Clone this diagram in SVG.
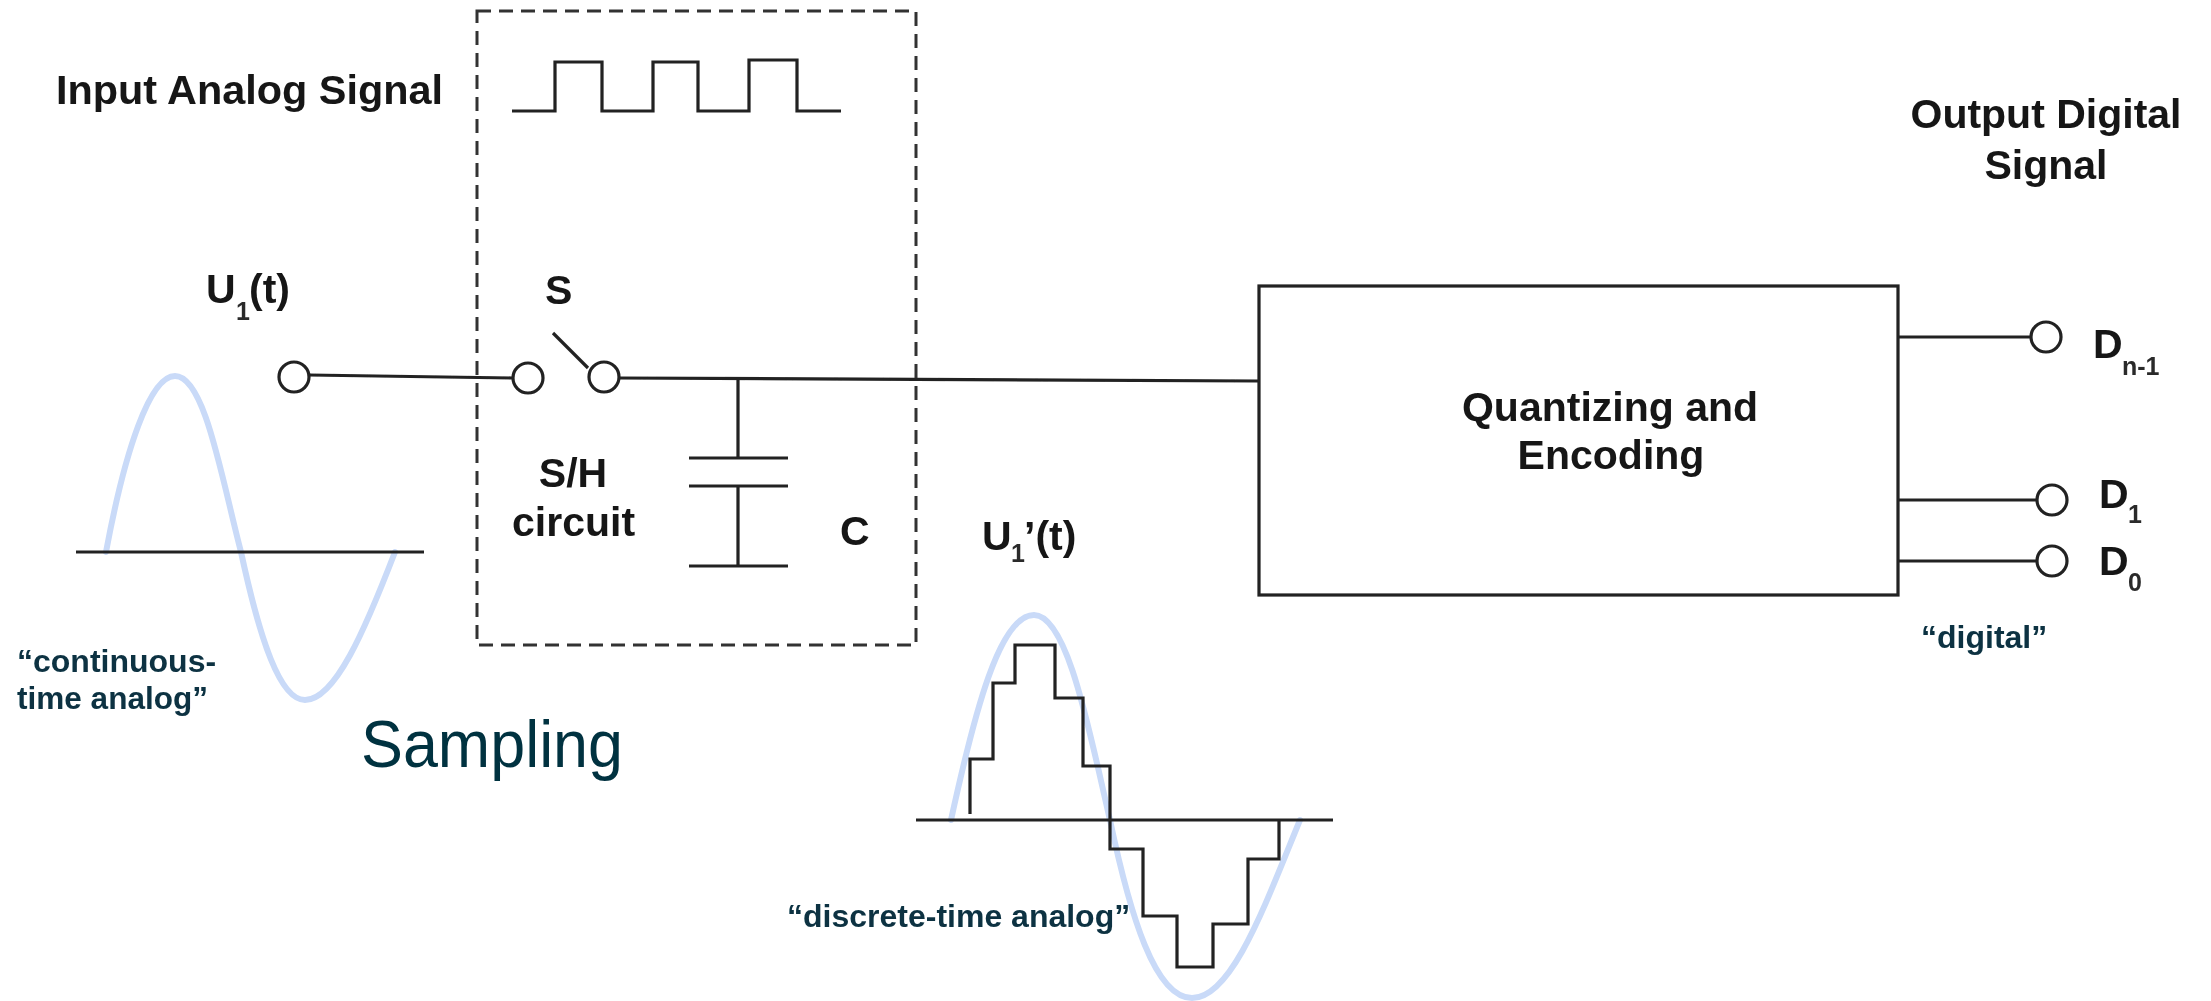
<svg xmlns="http://www.w3.org/2000/svg" width="2211" height="1001" viewBox="0 0 2211 1001">
<style>
text{font-family:"Liberation Sans",Arial,sans-serif;font-weight:700;fill:#141414;font-size:41px}
.sub{font-size:25px;fill:#2a2a2a}
.teal{fill:#0a3242;font-size:32px}
.big{fill:#02303f;font-weight:400;font-size:66px}
.w{fill:none;stroke:#c9daf8;stroke-width:6;stroke-linecap:round}
.l{fill:none;stroke:#222;stroke-width:3.2}
.c{fill:#fff;stroke:#222;stroke-width:3.2}
</style>
<defs><filter id="soft" x="0" y="0" width="100%" height="100%" filterUnits="userSpaceOnUse"><feGaussianBlur stdDeviation="0.6"/></filter></defs>
<rect width="2211" height="1001" fill="#fff"/>
<g filter="url(#soft)">
<g id="waves">
<path class="w" d="M106,552C125,450 150,376 175,376C205,376 222,480 241,552C260,640 280,700 305,700C335,700 365,630 395,552"/>
<path class="w" d="M951,820C975,710 1000,615 1034,615C1068,615 1090,735 1110,820C1130,915 1155,998 1192,998C1232,998 1265,905 1300,820"/>
</g>
<g id="connectors">
<path class="l" d="M309,375L513,378"/>
<path class="l" d="M553,333L588,368"/>
<path class="l" d="M619,378L1258,381"/>
<path class="l" d="M738,378V458M738,486V566"/>
<path class="l" d="M1898,337H2031M1898,500H2037M1898,561H2037"/>
</g>
<g id="sampling-box"><rect x="477" y="11" width="439" height="634" fill="none" stroke="#333" stroke-width="3" stroke-dasharray="14 8"/></g>
<g id="clock"><path class="l" d="M512,111H555V62H602V111H653V62H698V111H749V60H797V111H841"/></g>
<g id="input-terminal"><circle class="c" cx="294" cy="377" r="15"/></g>
<g id="switch"><circle class="c" cx="528" cy="378" r="15"/><circle class="c" cx="604" cy="377" r="15"/><text x="545" y="304">S</text></g>
<g id="capacitor"><path class="l" d="M689,458H788M689,486H788M689,566H788"/><text x="840" y="545">C</text></g>
<g id="block"><rect class="l" x="1259" y="286" width="639" height="309"/><text x="1610" y="421" text-anchor="middle">Quantizing and</text><text x="1611" y="469" text-anchor="middle">Encoding</text></g>
<g id="output-n"><circle class="c" cx="2046" cy="337" r="15"/><text x="2093" y="358">D</text><text class="sub" x="2122" y="375">n-1</text></g>
<g id="output-1"><circle class="c" cx="2052" cy="500" r="15"/><text x="2099" y="508">D</text><text class="sub" x="2128" y="523">1</text></g>
<g id="output-0"><circle class="c" cx="2052" cy="561" r="15"/><text x="2099" y="575">D</text><text class="sub" x="2128" y="591">0</text></g>
<g id="discrete-wave">
<path class="l" d="M76,552H424"/>
<path class="l" d="M916,820H1333"/>
<path class="l" d="M970,814V759H993V683H1015V645H1055V698H1083V766H1110V849H1143V916H1177V967H1213V924H1248V859H1279V820"/>
</g>
<g id="labels">
<text x="56" y="104" style="font-size:41.4px">Input Analog Signal</text>
<text x="206" y="303">U</text><text class="sub" x="236" y="320">1</text><text x="249" y="303">(t)</text>
<text x="573" y="487" text-anchor="middle">S/H</text>
<text x="512" y="536">circuit</text>
<text x="982" y="550">U</text><text class="sub" x="1011" y="562">1</text><text x="1024" y="550">’(t)</text>
<text x="2046" y="128" text-anchor="middle">Output Digital</text>
<text x="2046" y="179" text-anchor="middle">Signal</text>
<text class="teal" x="17" y="672">“continuous-</text>
<text class="teal" x="17" y="709" textLength="191" lengthAdjust="spacingAndGlyphs">time analog”</text>
<text class="teal" x="787" y="927">“discrete-time analog”</text>
<text class="teal" x="1921" y="648">“digital”</text>
<text class="big" x="361" y="767" textLength="262" lengthAdjust="spacingAndGlyphs">Sampling</text>
</g>
</g>
</svg>
